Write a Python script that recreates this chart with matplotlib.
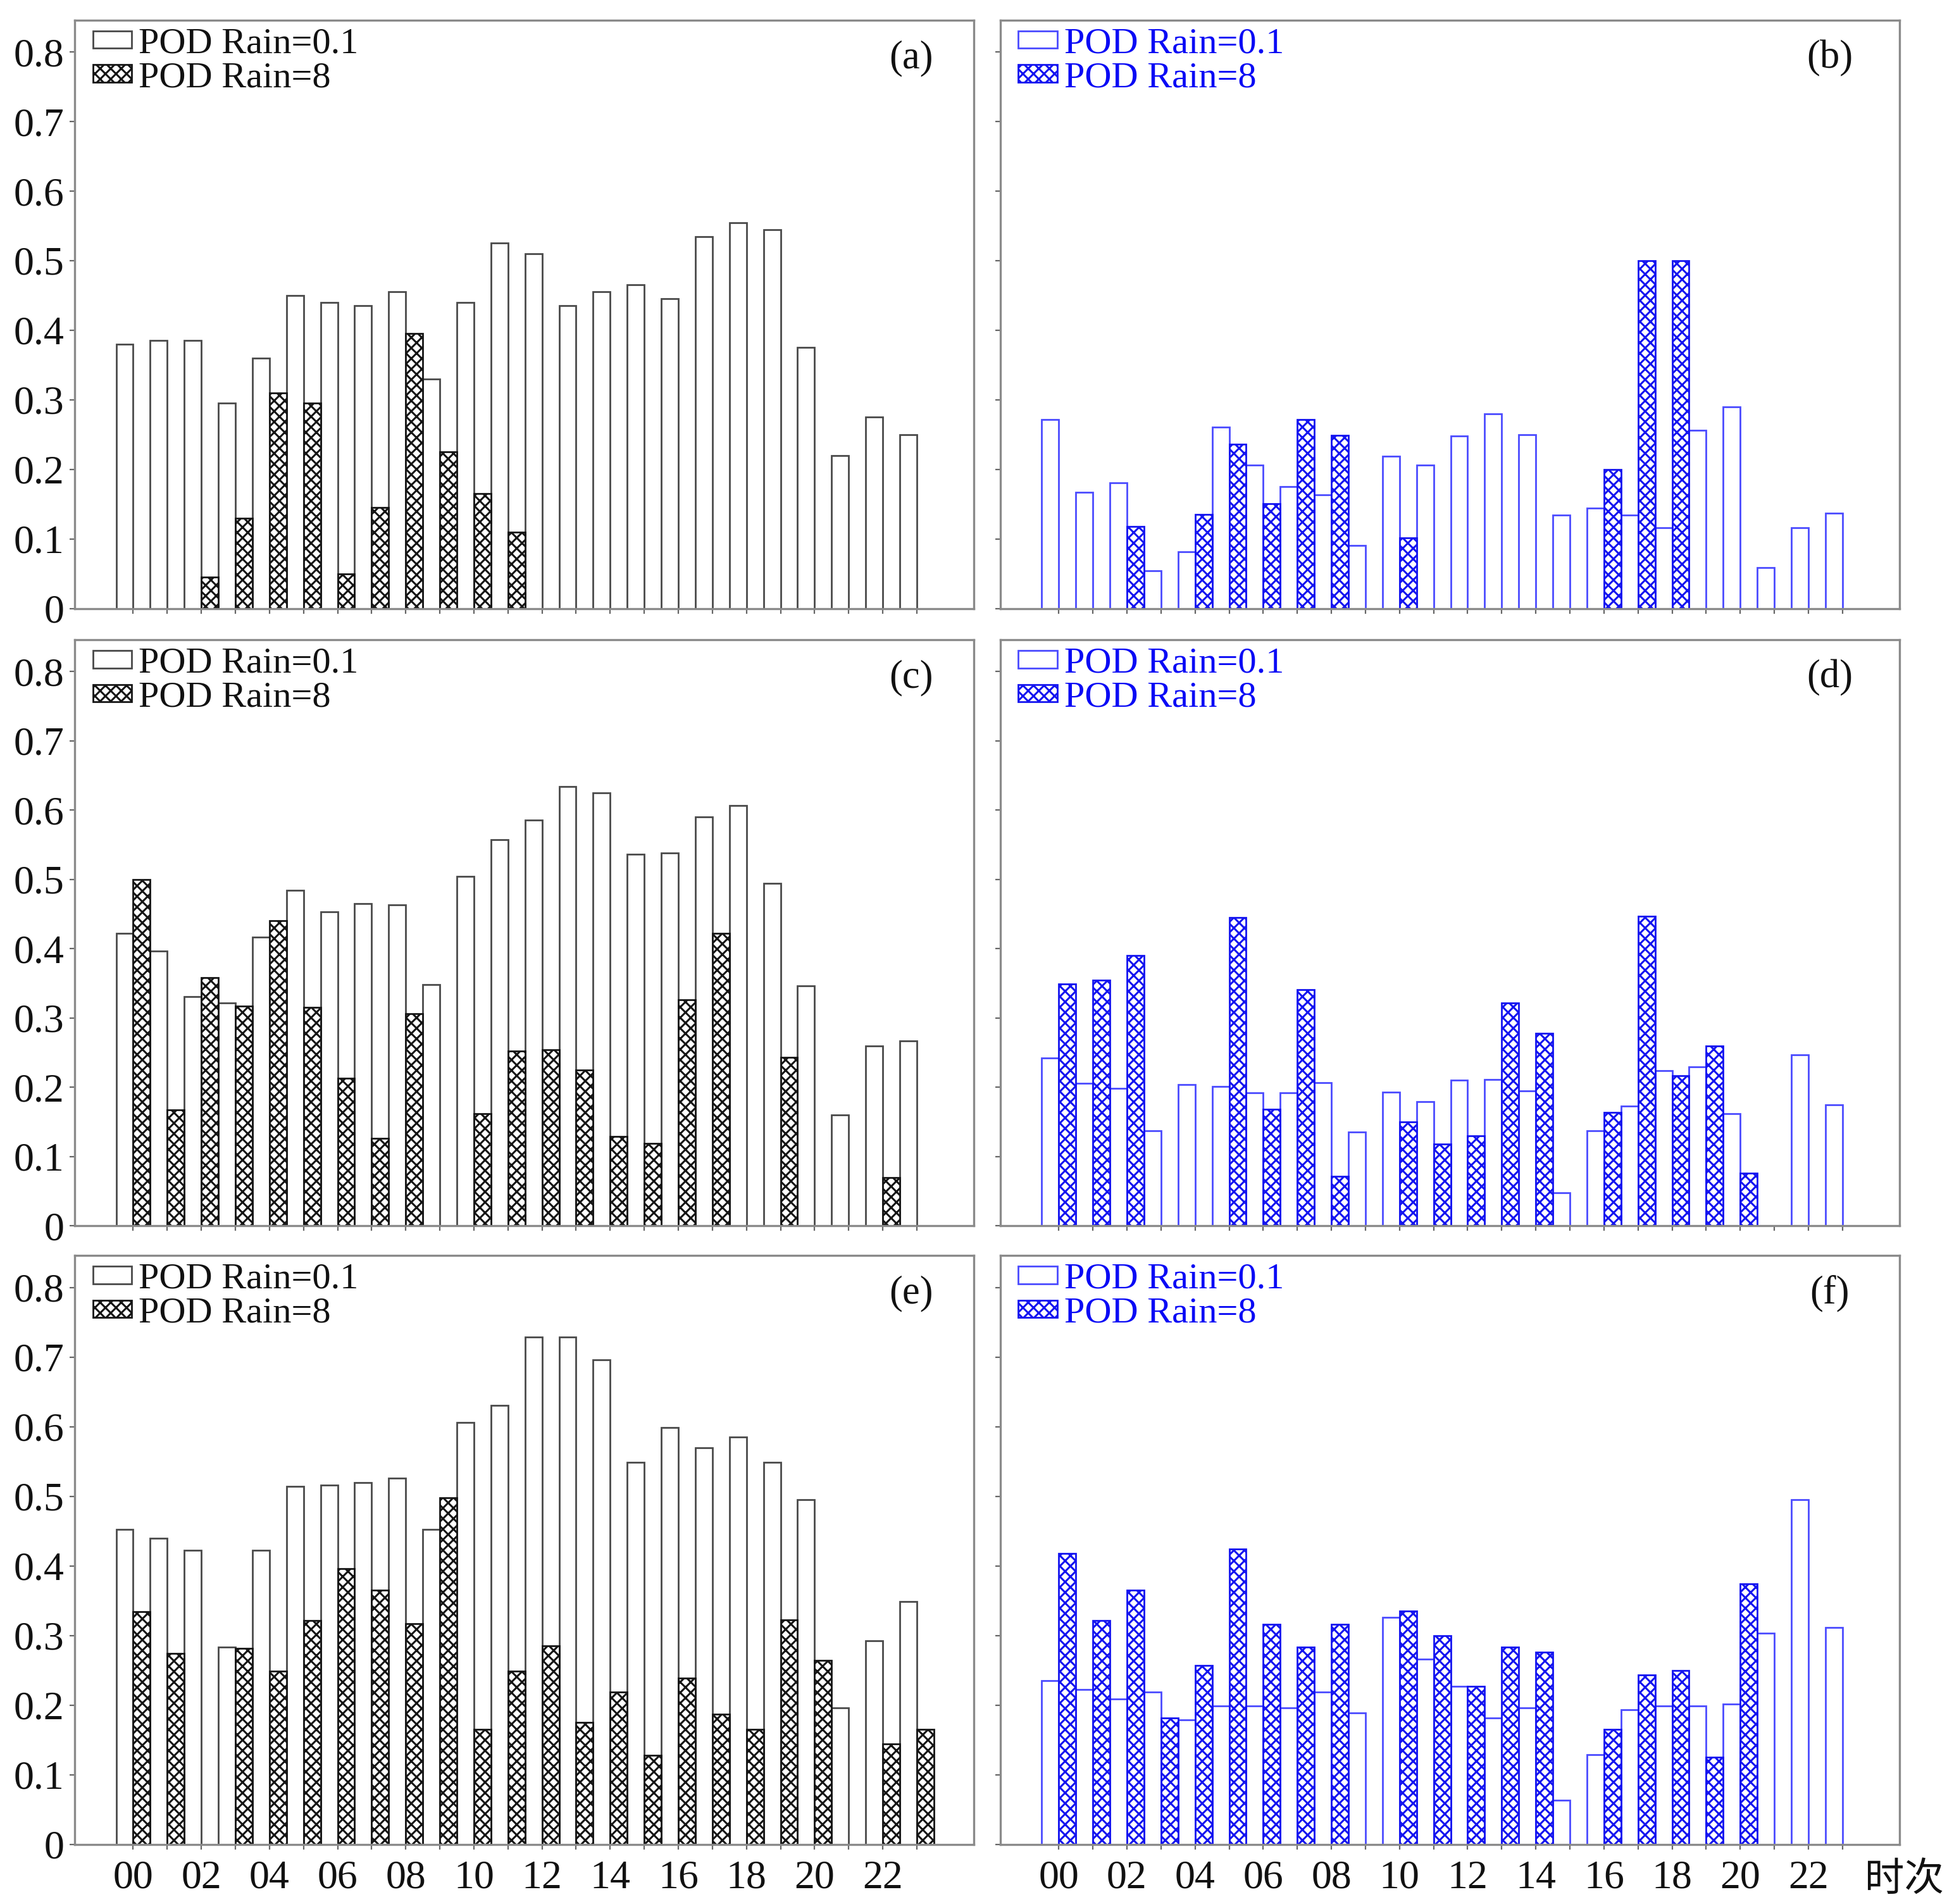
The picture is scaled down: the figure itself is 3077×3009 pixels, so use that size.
import numpy as np
import matplotlib.pyplot as plt

# ====
# DATA
# ====

hours = np.arange(24)
hour_labels = ['%02d' % h if h % 2 == 0 else '' for h in hours]
ytick_values = [0, 0.1, 0.2, 0.3, 0.4, 0.5, 0.6, 0.7, 0.8]
ytick_labels = ['0', '0.1', '0.2', '0.3', '0.4', '0.5', '0.6', '0.7', '0.8']
legend_labels = ['POD Rain=0.1', 'POD Rain=8']
panel_tags = ['(a)', '(b)', '(c)', '(d)', '(e)', '(f)']
xlabel_text = '时次'

# POD for Rain >= 0.1 (plain bars) and Rain >= 8 (hatched bars), hours 00-23
pod01_a = [0.38, 0.385, 0.385, 0.295, 0.36, 0.45, 0.44, 0.435, 0.455, 0.33, 0.44, 0.525,
           0.51, 0.435, 0.455, 0.465, 0.445, 0.535, 0.555, 0.545, 0.375, 0.22, 0.275, 0.25]
pod8_a = [0, 0, 0.045, 0.13, 0.31, 0.295, 0.05, 0.145, 0.395, 0.225, 0.165, 0.11,
          0, 0, 0, 0, 0, 0, 0, 0, 0, 0, 0, 0]

pod01_b = [0.272, 0.167, 0.181, 0.054, 0.082, 0.261, 0.206, 0.175, 0.163, 0.091, 0.219, 0.206,
           0.248, 0.28, 0.25, 0.134, 0.144, 0.134, 0.116, 0.256, 0.29, 0.059, 0.116, 0.137]
pod8_b = [0, 0, 0.118, 0, 0.135, 0.236, 0.151, 0.272, 0.249, 0, 0.102, 0,
          0, 0, 0, 0, 0.2, 0.5, 0.5, 0, 0, 0, 0, 0]

pod01_c = [0.422, 0.397, 0.331, 0.322, 0.417, 0.484, 0.453, 0.465, 0.463, 0.348, 0.504, 0.557,
           0.586, 0.634, 0.625, 0.536, 0.538, 0.59, 0.607, 0.494, 0.346, 0.16, 0.26, 0.267]
pod8_c = [0.5, 0.167, 0.358, 0.317, 0.44, 0.315, 0.213, 0.126, 0.306, 0, 0.162, 0.252,
          0.254, 0.225, 0.129, 0.119, 0.326, 0.422, 0, 0.243, 0, 0, 0.07, 0]

pod01_d = [0.242, 0.206, 0.198, 0.137, 0.204, 0.201, 0.192, 0.192, 0.207, 0.135, 0.193, 0.179,
           0.21, 0.211, 0.195, 0.048, 0.137, 0.173, 0.224, 0.229, 0.162, 0, 0.247, 0.175]
pod8_d = [0.349, 0.355, 0.39, 0, 0, 0.445, 0.168, 0.341, 0.071, 0, 0.15, 0.118,
          0.13, 0.322, 0.278, 0, 0.164, 0.447, 0.217, 0.26, 0.076, 0, 0, 0]

pod01_e = [0.452, 0.44, 0.422, 0.283, 0.422, 0.514, 0.516, 0.52, 0.526, 0.452, 0.606, 0.631,
           0.729, 0.729, 0.696, 0.549, 0.599, 0.57, 0.585, 0.549, 0.495, 0.196, 0.292, 0.349]
pod8_e = [0.334, 0.274, 0, 0.281, 0.249, 0.321, 0.396, 0.365, 0.317, 0.498, 0.165, 0.249,
          0.285, 0.175, 0.219, 0.128, 0.239, 0.187, 0.165, 0.322, 0.264, 0, 0.144, 0.165]

pod01_f = [0.235, 0.222, 0.209, 0.219, 0.179, 0.199, 0.199, 0.196, 0.219, 0.189, 0.326, 0.266,
           0.227, 0.181, 0.196, 0.063, 0.129, 0.193, 0.199, 0.199, 0.201, 0.303, 0.495, 0.311]
pod8_f = [0.418, 0.321, 0.365, 0.181, 0.257, 0.424, 0.316, 0.283, 0.316, 0, 0.335, 0.3,
          0.227, 0.283, 0.276, 0, 0.165, 0.243, 0.25, 0.125, 0.374, 0, 0, 0]

# ======
# STYLES
# ======

plt.rcParams['font.family'] = ['Liberation Serif']
plt.rcParams['hatch.linewidth'] = 2.2

black_style = dict(light='#4a4a4a', heavy='#151515', text='#111111')
blue_style = dict(light='#4b4bff', heavy='#1414f0', text='#0a0af5')

panels = [
    (pod01_a, pod8_a, black_style),
    (pod01_b, pod8_b, blue_style),
    (pod01_c, pod8_c, black_style),
    (pod01_d, pod8_d, blue_style),
    (pod01_e, pod8_e, black_style),
    (pod01_f, pod8_f, blue_style),
]

# Axes rectangles (figure fractions)
col_left = [0.0383, 0.5137]
col_width = 0.4620
row_bottom = [0.6804, 0.3562, 0.0314]
row_height = [0.3091, 0.3078, 0.3092]
tag_x = [0.93, 0.922]

fig = plt.figure(figsize=(30.77, 30.09), dpi=100)

for k, (light, heavy, style) in enumerate(panels):
    row, col = k // 2, k % 2
    ax = fig.add_axes([col_left[col], row_bottom[row], col_width, row_height[row]])

    light = np.asarray(light)
    heavy = np.asarray(heavy)
    m1 = light > 0
    m2 = heavy > 0

    # Plain bar left of the hour tick, hatched bar right of it
    ax.bar(hours[m1], light[m1], width=-0.5, align='edge', facecolor='white',
           edgecolor=style['light'], linewidth=2.0, label=legend_labels[0])
    ax.bar(hours[m2], heavy[m2], width=0.5, align='edge', facecolor='white',
           edgecolor=style['heavy'], hatch='xx', linewidth=2.0, label=legend_labels[1])

    ax.set_xlim(-1.72, 24.68)
    ax.set_ylim(0, 0.846)

    ax.set_xticks(hours)
    ax.set_yticks(ytick_values)
    if row == 2:
        ax.set_xticklabels(hour_labels)
    else:
        ax.set_xticklabels([])
    if col == 0:
        ax.set_yticklabels(ytick_labels)
    else:
        ax.set_yticklabels([])

    ax.tick_params(axis='both', direction='out', length=6, width=1.6, colors='#666666',
                   labelcolor='#111111', labelsize=46)
    ax.tick_params(axis='x', pad=12)
    ax.tick_params(axis='y', pad=6)

    for spine in ax.spines.values():
        spine.set_color('#8a8a8a')
        spine.set_linewidth(2.4)

    leg = ax.legend(loc='upper left', bbox_to_anchor=(0.012, 1.0), frameon=False, fontsize=42,
                    handlelength=1.05, handleheight=0.35, handletextpad=0.2,
                    labelspacing=0.03, borderaxespad=0.0, borderpad=0.2)
    for txt in leg.get_texts():
        txt.set_color(style['text'])

    ax.text(tag_x[col], 0.935, panel_tags[k], transform=ax.transAxes, ha='center', va='center',
            fontsize=45, color='#111111')

fig.text(0.978, 0.013, xlabel_text, ha='center', va='center', fontsize=45,
         family=['Noto Sans CJK SC', 'DejaVu Sans'], color='#111111')

fig.savefig('out.png', dpi=100, facecolor='white')
